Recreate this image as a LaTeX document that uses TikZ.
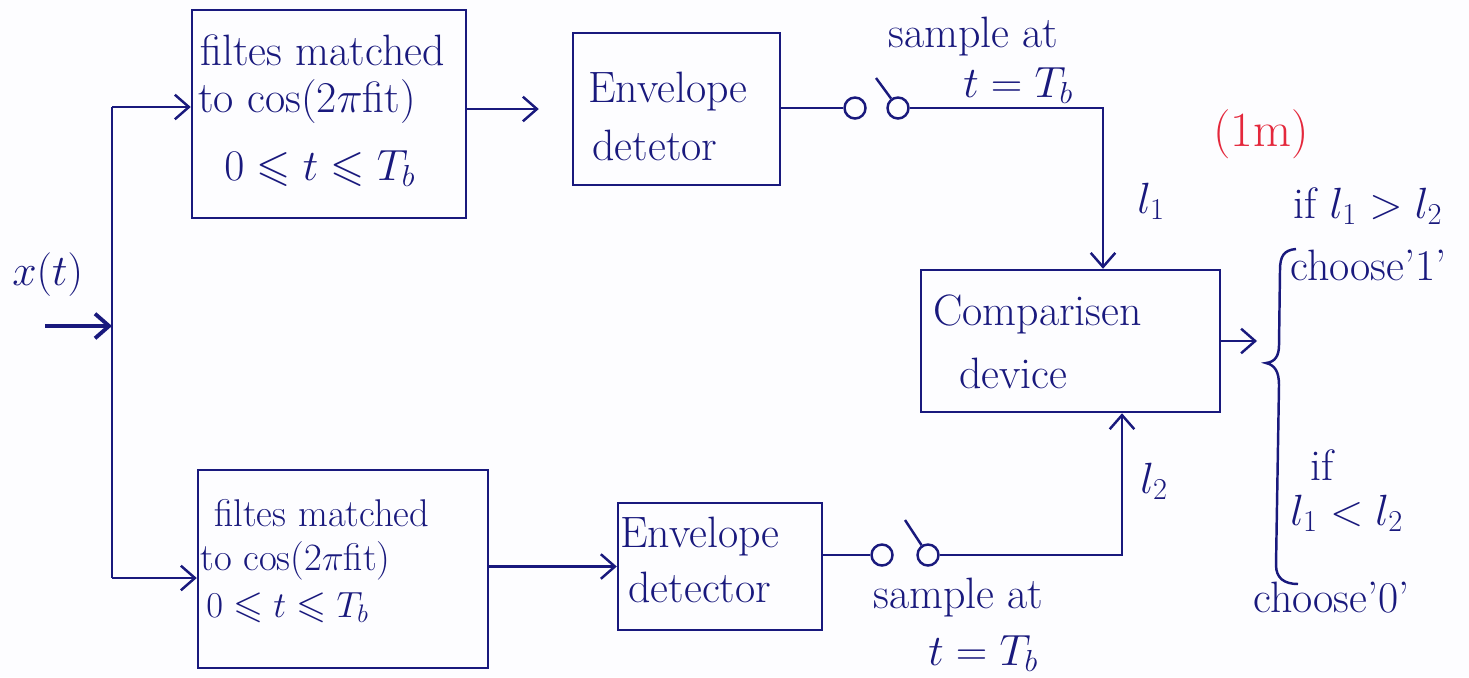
\documentclass[tikz,border=0pt]{standalone}
\usepackage{amssymb}
\usetikzlibrary{arrows.meta,fit}
\definecolor{ink}{RGB}{25,25,125}
\definecolor{markred}{RGB}{228,40,60}
\definecolor{paper}{RGB}{253,253,255}
\begin{document}
\begin{tikzpicture}[x=0.02cm,y=-0.02cm,
  box/.style={draw=ink,line width=1.4pt,inner sep=0pt},
  wire/.style={draw=ink,line width=1.4pt},
  arr/.style={wire,-{Straight Barb[length=8pt,width=14pt]}},
  pin/.style={circle,draw=ink,line width=1.4pt,inner sep=0pt,minimum size=0.42cm},
  txt/.style={text=ink,inner sep=0pt,anchor=base west,font=\fontsize{25}{30}\selectfont},
  small/.style={txt,font=\fontsize{22}{26}\selectfont},
]
\fill[paper] (0,0) rectangle (1469,677);
\useasboundingbox (0,0) rectangle (1469,677);

% blocks
\node[box,fit={(192,10) (466,218)}] (f1) {};
\node[box,fit={(573,33) (780,185)}] (e1) {};
\node[box,fit={(921,270) (1220,412)}] (cmp) {};
\node[box,fit={(198,470) (488,668)}] (f2) {};
\node[box,fit={(618,503) (822,630)}] (e2) {};

% sampling switches
\node[pin] (s1a) at (855,108) {};
\node[pin] (s1b) at (898,108) {};
\node[pin] (s2a) at (882,555) {};
\node[pin] (s2b) at (928,555) {};

% routing points
\coordinate (xin) at (45,326);
\coordinate (jx) at (112,326);
\coordinate (jt) at (112,107);
\coordinate (jb) at (112,578);
\coordinate (c1) at (1103,108);
\coordinate (c2) at (1122,555);
\coordinate (lev1) at (876,78);
\coordinate (lev2) at (905,520);
\coordinate (dec) at (1257,341);

% input and branches
\draw[arr,line width=2.2pt] (xin) -- (jx);
\draw[wire] (jt) -- (jb);
\draw[arr] (jt) -- (f1.west |- jt);
\draw[arr] (jb) -- (f2.west |- jb);

% filters to envelope detectors
\draw[arr,shorten >=0.66cm] (f1.east |- e1.west) -- (e1.west);
\draw[arr] (f2.east |- e2.west) -- (e2.west);

% upper sampler
\draw[wire] (e1.east |- s1a) -- (s1a);
\draw[wire] (s1b) -- (lev1);
\draw[arr] (s1b) -- (c1) -- (cmp.north -| c1);

% lower sampler
\draw[wire] (e2.east |- s2a) -- (s2a);
\draw[wire] (s2b) -- (lev2);
\draw[arr] (s2b) -- (c2) -- (cmp.south -| c2);

% decision output
\draw[arr] (cmp.east) -- (dec);
\draw[wire] (1296,249) .. controls (1284,250) and (1280,256) .. (1280,270)
  -- (1279,345) .. controls (1279,356) and (1275,362) .. (1266,363)
  .. controls (1275,365) and (1279,372) .. (1279,385)
  -- (1276,565) .. controls (1276,578) and (1284,584) .. (1298,584);

% texts
\node[txt] (xt) at (12,285) {$x(t)$};

\node[txt] (f1a) at (200,65) {filtes matched};
\node[txt] (f1b) at (198,112) {to cos(2$\pi$fit)};
\node[txt] (f1c) at (224,180) {$0\leqslant t\leqslant T_b$};

\node[small] (f2a) at (214,526) {filtes matched};
\node[small] (f2b) at (200,570) {to cos(2$\pi$fit)};
\node[small] (f2c) at (206,617) {$0\leqslant t\leqslant T_b$};

\node[txt] (e1a) at (588,102) {Envelope};
\node[txt] (e1b) at (592,160) {detetor};
\node[txt] (e2a) at (620,547) {Envelope};
\node[txt] (e2b) at (628,602) {detector};

\node[txt] (cma) at (933,325) {Comparisen};
\node[txt] (cmb) at (959,388) {device};

\node[txt] (sa1) at (888,47) {sample at};
\node[txt] (sb1) at (963,97) {$t=T_b$};
\node[txt] (sa2) at (873,608) {sample at};
\node[txt] (sb2) at (928,665) {$t=T_b$};

\node[txt,text=markred,font=\fontsize{28}{32}\selectfont] (mk) at (1213,146) {(1m)};

\node[txt] (l1) at (1137,213) {$l_1$};
\node[txt] (l2) at (1140,493) {$l_2$};

\node[txt] (ca) at (1293,218) {if $l_1>l_2$};
\node[txt] (cb) at (1290,280) {choose'1'};
\node[txt] (cc) at (1310,480) {if};
\node[txt] (cd) at (1290,525) {$l_1<l_2$};
\node[txt] (ce) at (1253,612) {choose'0'};
\end{tikzpicture}
\end{document}
